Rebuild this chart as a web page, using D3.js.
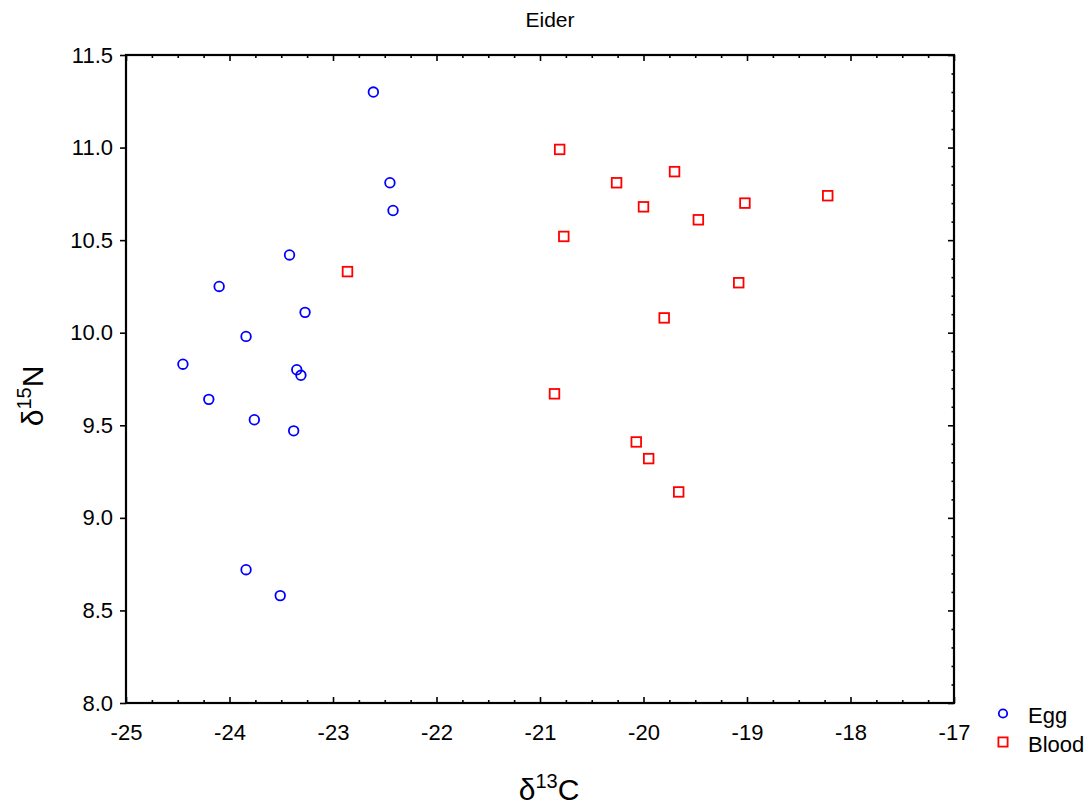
<!DOCTYPE html>
<html>
<head>
<meta charset="utf-8">
<script src="https://cdn.jsdelivr.net/npm/d3@7"></script>
<style>
  html, body { margin: 0; padding: 0; background: #fff; }
  svg { display: block; font-family: "Liberation Sans", Arial, sans-serif; }
</style>
</head>
<body>
<svg id="chart" width="1092" height="805"></svg>
<script>
// ---- Data ----
const title = "Eider";
const seriesNames = ["Egg", "Blood"];
const eggC = [-22.61, -22.45, -22.42, -23.42, -24.10, -23.27, -23.84, -24.45, -23.35, -23.31, -24.20, -23.76, -23.38, -23.84, -23.51];
const eggN = [11.30, 10.81, 10.66, 10.42, 10.25, 10.11, 9.98, 9.83, 9.80, 9.77, 9.64, 9.53, 9.47, 8.72, 8.58];
const bloodC = [-20.81, -19.70, -20.26, -18.22, -19.02, -20.00, -19.47, -20.77, -22.86, -19.08, -19.80, -20.86, -20.07, -19.95, -19.66];
const bloodN = [10.99, 10.87, 10.81, 10.74, 10.70, 10.68, 10.61, 10.52, 10.33, 10.27, 10.08, 9.67, 9.41, 9.32, 9.14];
const xTicks = [-25, -24, -23, -22, -21, -20, -19, -18, -17];
const xTickLabels = ["-25", "-24", "-23", "-22", "-21", "-20", "-19", "-18", "-17"];
const yTicks = [8.0, 8.5, 9.0, 9.5, 10.0, 10.5, 11.0, 11.5];
const yTickLabels = ["8.0", "8.5", "9.0", "9.5", "10.0", "10.5", "11.0", "11.5"];

// ---- Layout ----
const svg = d3.select("#chart");
const L = 126, R = 954, T = 55, B = 703;
const x = d3.scaleLinear().domain([-25, -17]).range([L, R]);
const y = d3.scaleLinear().domain([8, 11.5]).range([B, T]);

const xMinor = d3.range(-25, -16.99, 0.25).filter(v => Math.abs(v - Math.round(v)) > 1e-6);
const yMinor = d3.range(8, 11.501, 0.1).map(v => +v.toFixed(1)).filter(v => Math.abs(v * 2 - Math.round(v * 2)) > 1e-6);

function styleAxis(g) {
  g.select(".domain").remove();
  g.selectAll(".tick line").attr("stroke", "#000").attr("stroke-width", 1.6);
  g.selectAll("text").attr("fill", "#000").attr("font-size", 22);
}

// bottom labels + inward major ticks
svg.append("g").attr("transform", `translate(0,${B})`)
  .call(d3.axisBottom(x).tickValues(xTicks).tickSize(-6).tickPadding(21)
    .tickFormat((d, i) => xTickLabels[i]))
  .call(styleAxis);
svg.append("g").attr("transform", `translate(0,${B})`)
  .call(d3.axisBottom(x).tickValues(xMinor).tickSize(-3).tickFormat(""))
  .call(styleAxis);
// top ticks
svg.append("g").attr("transform", `translate(0,${T})`)
  .call(d3.axisTop(x).tickValues(xTicks).tickSize(-6).tickFormat(""))
  .call(styleAxis);
svg.append("g").attr("transform", `translate(0,${T})`)
  .call(d3.axisTop(x).tickValues(xMinor).tickSize(-3).tickFormat(""))
  .call(styleAxis);
// left axis: outward majors with labels
svg.append("g").attr("transform", `translate(${L},0)`)
  .call(d3.axisLeft(y).tickValues(yTicks).tickSize(6).tickPadding(7)
    .tickFormat((d, i) => yTickLabels[i]))
  .call(styleAxis);
// right ticks inward
svg.append("g").attr("transform", `translate(${R},0)`)
  .call(d3.axisRight(y).tickValues(yTicks).tickSize(-6).tickFormat(""))
  .call(styleAxis);
svg.append("g").attr("transform", `translate(${R},0)`)
  .call(d3.axisRight(y).tickValues(yMinor).tickSize(-2.5).tickFormat(""))
  .call(styleAxis);

// frame
svg.append("rect").attr("x", L).attr("y", T).attr("width", R - L).attr("height", B - T)
  .attr("fill", "none").attr("stroke", "#000").attr("stroke-width", 2.2);

// ---- Points ----
const egg = eggC.map((c, i) => ({ c, n: eggN[i] }));
const blood = bloodC.map((c, i) => ({ c, n: bloodN[i] }));

svg.append("g").selectAll("circle").data(egg).join("circle")
  .attr("cx", d => x(d.c)).attr("cy", d => y(d.n)).attr("r", 4.8)
  .attr("fill", "none").attr("stroke", "#0000ff").attr("stroke-width", 1.8);

const s = 9.6;
svg.append("g").selectAll("rect").data(blood).join("rect")
  .attr("x", d => x(d.c) - s / 2).attr("y", d => y(d.n) - s / 2)
  .attr("width", s).attr("height", s)
  .attr("fill", "none").attr("stroke", "#ff0000").attr("stroke-width", 1.8);

// ---- Title ----
svg.append("text").attr("x", 550).attr("y", 27).attr("text-anchor", "middle")
  .attr("font-size", 21).attr("fill", "#000").text(title);

// ---- Axis titles ----
const xt = svg.append("text").attr("x", 549).attr("y", 800).attr("text-anchor", "middle")
  .attr("font-size", 30).attr("fill", "#000");
xt.append("tspan").text("δ");
xt.append("tspan").attr("font-size", 20).attr("dy", -12).text("13");
xt.append("tspan").attr("dy", 12).text("C");

const yt = svg.append("text").attr("transform", "translate(43,396) rotate(-90)")
  .attr("text-anchor", "middle").attr("font-size", 30).attr("fill", "#000");
yt.append("tspan").text("δ");
yt.append("tspan").attr("font-size", 20).attr("dy", -12).text("15");
yt.append("tspan").attr("dy", 12).text("N");

// ---- Legend ----
const lg = svg.append("g");
lg.append("circle").attr("cx", 1003).attr("cy", 713.5).attr("r", 4.2)
  .attr("fill", "none").attr("stroke", "#0000ff").attr("stroke-width", 1.8);
lg.append("rect").attr("x", 1003 - 4.6).attr("y", 742 - 4.6).attr("width", 9.2).attr("height", 9.2)
  .attr("fill", "none").attr("stroke", "#ff0000").attr("stroke-width", 1.8);
lg.append("text").attr("x", 1028).attr("y", 723).attr("font-size", 22).attr("fill", "#000").text(seriesNames[0]);
lg.append("text").attr("x", 1028).attr("y", 751.5).attr("font-size", 22).attr("fill", "#000").text(seriesNames[1]);
</script>
</body>
</html>
